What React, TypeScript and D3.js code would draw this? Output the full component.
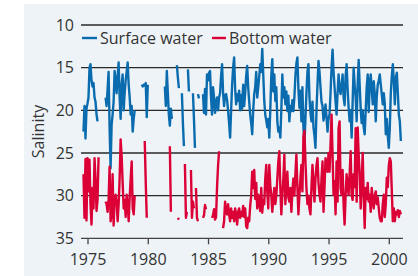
import React from 'react';
import * as d3 from 'd3';

// monthly readings, one row per calendar year (Jan..Dec), null = no sample
const years = d3.range(1974, 2001);

const surfaceWater: (number | null)[][] = [
  [null, null, null, null, null, null, null, 22.5, 19.5, 23.3, 19.8, 19.2], // 1974
  [18.5, 15.0, 14.6, 16.5, 17.2, 16.8, 18.5, 19.0, 20.5, 21.3, null, null],
  [null, null, null, null, null, 18.5, 19.5, 17.5, 15.5, 22.0, 26.8, 21.7],
  [20.5, 19.0, 15.4, 16.5, 18.0, 16.0, 14.4, 18.5, 21.0, 17.0, 15.8, 20.0],
  [18.0, 16.5, 15.5, 14.4, 17.0, 18.5, 20.5, 19.5, 22.5, 21.0, 20.0, null],
  [null, null, null, null, null, 17.0, 17.2, 17.0, 17.1, 16.8, 20.8, 17.0], // 1979
  [null, null, null, null, null, null, null, null, null, null, null, null],
  [null, null, null, null, 17.2, 19.5, 15.4, 18.0, 20.5, 21.8, 19.8, 21.0],
  [null, null, null, null, 14.7, 16.2, 17.4, null, null, 18.0, 21.5, 24.2],
  [null, null, null, 15.2, 17.8, null, null, null, 18.0, 21.0, 24.4, null],
  [null, 18.1, 18.6, null, null, null, 18.1, 20.3, 17.5, 20.5, 15.8, 16.5], // 1984
  [15.6, 15.4, 18.5, 20.5, 17.3, 18.5, 20.3, 19.0, 18.5, 20.0, 18.5, 18.0],
  [16.0, 14.6, 18.0, 19.5, 18.2, 18.1, 18.8, 20.1, 21.5, 23.2, 20.0, 17.0],
  [15.0, 13.8, 17.5, 19.3, 18.1, 18.9, 17.7, 20.0, 18.2, 19.8, 17.0, 19.5],
  [18.0, 16.0, 14.8, 17.3, 19.0, 20.5, 21.5, 22.8, 20.0, 18.1, 17.3, 15.5],
  [18.5, 17.3, 16.0, 14.6, 15.5, 12.8, 15.8, 18.9, 20.5, 21.2, 22.0, 21.0], // 1989
  [23.2, 20.0, 16.0, 14.0, 17.8, 15.8, 18.9, 17.3, 21.3, 22.5, 22.0, 23.2],
  [20.0, 15.8, 18.5, 17.3, 19.3, 17.8, 20.1, 18.3, 21.3, 19.5, 20.1, 18.8],
  [20.1, 18.5, 16.0, 14.5, 13.8, 17.5, 19.7, 17.7, 21.3, 17.3, 22.0, 24.0],
  [21.0, 18.0, 15.5, 14.6, 18.5, 20.3, 21.3, 19.0, 22.0, 23.0, 24.4, 20.0],
  [17.0, 14.2, 15.5, 17.3, 19.0, 19.5, 21.2, 20.5, 19.3, 20.8, 22.5, 21.0], // 1994
  [20.5, 18.0, 15.0, 12.9, 15.5, 17.3, 19.0, 20.5, 18.0, 15.8, 17.5, 18.1],
  [17.0, 15.8, 18.5, 19.4, 16.0, 14.6, 17.5, 19.7, 21.3, 20.0, 23.2, 19.0],
  [15.0, 17.0, 18.5, 21.3, 17.0, 14.1, 17.0, 19.8, 21.5, 20.0, 22.0, 22.8],
  [20.0, 17.3, 15.8, 20.2, 17.0, 15.8, 17.5, 19.3, 16.6, 18.0, 21.3, 18.5],
  [17.0, 16.5, 15.8, 17.0, 18.1, 19.3, 18.0, 19.2, 22.8, 21.0, 23.0, 24.4], // 1999
  [22.0, 18.0, 16.0, 14.6, 16.5, 19.3, 16.2, 15.6, 18.0, 20.5, 21.3, 23.6],
];

const bottomWater: (number | null)[][] = [
  [null, null, null, null, null, null, null, 27.5, 32.6, 25.7, 32.9, 25.6], // 1974
  [29.5, 25.8, 31.0, 33.4, 29.1, 31.5, 25.6, 28.0, 31.8, 30.5, 25.5, null],
  [null, null, null, null, null, 30.7, 31.0, 31.9, 30.5, 26.6, 33.0, 32.2],
  [27.5, 33.5, 30.5, 29.9, 30.7, 33.0, 31.0, 28.0, 23.4, 25.4, 28.5, 31.5],
  [30.5, 32.5, 29.9, 31.0, 33.0, 30.2, 28.0, 26.0, 31.5, 32.2, 30.0, null],
  [null, null, null, null, null, null, null, null, 23.6, 28.5, 32.6, null], // 1979
  [null, null, null, null, null, null, null, null, null, null, null, null],
  [null, null, null, null, null, null, null, null, null, 24.2, 31.9, null],
  [null, null, null, null, null, 32.6, 32.8, null, null, null, null, null],
  [26.3, 32.6, 31.9, null, null, null, 27.0, 32.6, 30.7, 31.5, null, 29.1],
  [32.6, 33.0, null, null, null, null, 32.6, 32.3, 31.1, 31.6, null, null], // 1984
  [null, null, null, 32.6, 32.3, 31.6, 32.8, 32.5, 29.0, 26.5, 24.8, null],
  [null, null, 33.8, 33.0, 30.7, 31.8, 32.2, 31.0, 32.2, 33.0, 31.5, 32.6],
  [31.9, 33.0, 31.5, 32.2, 33.4, 31.9, 31.5, 32.6, 31.9, 32.4, 31.2, 32.5],
  [31.5, 33.6, 33.8, 32.6, 33.0, 31.2, 30.0, 27.2, 29.1, 27.0, 30.4, 28.5],
  [31.5, 29.9, 30.7, 31.8, 29.1, 32.0, 30.5, 31.0, 28.0, 26.4, 29.5, 31.5], // 1989
  [26.4, 28.8, 29.9, 31.9, 30.5, 29.1, 31.0, 30.0, 28.0, 26.0, 24.8, 29.0],
  [32.2, 29.9, 28.0, 25.2, 31.0, 29.0, 27.2, 30.2, 30.7, 29.1, 31.9, 29.5],
  [28.0, 30.0, 27.5, 25.2, 29.0, 32.2, 30.0, 28.0, 26.4, 29.5, 23.1, 22.4],
  [26.0, 29.1, 31.0, 30.0, 31.5, 32.2, 29.0, 26.4, 28.5, 30.7, 28.0, 26.5],
  [25.6, 28.5, 29.9, 30.7, 28.0, 26.0, 31.9, 29.0, 25.6, 26.4, 27.2, 25.0], // 1994
  [27.2, 24.0, 20.5, 25.2, 29.9, 28.3, 32.2, 26.0, 30.7, 22.1, 21.3, 29.1],
  [29.9, 27.0, 31.0, 33.4, 30.0, 27.5, 28.7, 29.9, 27.5, 24.8, 29.9, 30.5],
  [27.5, 29.0, 22.1, 30.7, 22.0, 25.2, 27.5, 31.5, 28.5, 25.0, 30.0, 33.8],
  [29.1, 30.4, 28.5, 30.7, 29.9, 31.9, 29.1, 30.5, 31.5, 30.0, 29.5, 31.0],
  [30.2, 31.5, 32.6, 33.0, 33.0, 31.0, 29.9, 32.5, 31.0, 27.9, 29.0, 26.5], // 1999
  [25.6, 26.0, 29.5, 33.0, 31.5, 33.0, 31.9, 32.2, 31.7, 32.5, 31.8, 32.2],
];

const salinityTicks = [10, 15, 20, 25, 30, 35];
const yearTicks = [1975, 1980, 1985, 1990, 1995, 2000];

const seriesInfo = [
  { name: 'Surface water', color: '#0a6cae', rows: surfaceWater },
  { name: 'Bottom water', color: '#db0036', rows: bottomWater },
];

type Pt = { t: number; v: number | null };

const toPoints = (rows: (number | null)[][]): Pt[] =>
  rows.flatMap((row, yi) => row.map((v, m) => ({ t: years[yi] + (m + 0.5) / 12, v })));

const W = 418;
const H = 276;

const App: React.FC = () => {
  const x = d3.scaleLinear().domain([1975, 2000]).range([88, 389.3]);
  const y = d3.scaleLinear().domain([10, 35]).range([25, 238.3]);
  const x0 = 81;
  const x1 = 403;

  const line = d3.line<Pt>()
    .defined(d => d.v != null)
    .x(d => x(d.t))
    .y(d => y(d.v as number));

  const font = '"Open Sans", "Noto Sans", sans-serif';
  const ink = '#333';
  const fs = 16;

  return (
    <svg width={W} height={H} style={{ position: 'absolute', left: 0, top: 0 }} fontFamily={font}>
      <rect x={24} y={4} width={W - 24} height={H - 4} fill="#eef3f8" />

      {/* grid */}
      {salinityTicks.slice(0, -1).map(t => (
        <line key={t} x1={x0} x2={x1} y1={y(t)} y2={y(t)} stroke="#2a2a2a" strokeWidth={1.3} />
      ))}
      {/* x axis */}
      <line x1={x0} x2={x1} y1={y(35)} y2={y(35)} stroke="#444" strokeWidth={1.3} />
      {yearTicks.map(t => (
        <g key={t}>
          <line x1={x(t)} x2={x(t)} y1={y(35)} y2={y(35) + 6} stroke="#444" strokeWidth={1.3} />
          <text x={x(t)} y={265} textAnchor="middle" fontSize={fs} fill={ink}>{t}</text>
        </g>
      ))}
      {salinityTicks.map(t => (
        <text key={t} x={74} y={y(t) + 5.8} textAnchor="end" fontSize={fs} fill={ink}>{t}</text>
      ))}
      <text transform="translate(44,131.5) rotate(-90)" textAnchor="middle" fontSize={fs} fill={ink}>Salinity</text>

      {/* bottom water drawn last so it sits over surface where they cross */}
      {seriesInfo.map(s => (
        <path key={s.name} d={line(toPoints(s.rows)) || ''} fill="none" stroke={s.color}
          strokeWidth={2.4} strokeLinejoin="round" />
      ))}

      {/* legend */}
      <line x1={82} x2={97} y1={38} y2={38} stroke={seriesInfo[0].color} strokeWidth={2.4} />
      <text x={100} y={44} fontSize={fs} fill={ink}>{seriesInfo[0].name}</text>
      <line x1={212} x2={226} y1={38} y2={38} stroke={seriesInfo[1].color} strokeWidth={2.4} />
      <text x={229} y={44} fontSize={fs} fill={ink}>{seriesInfo[1].name}</text>
    </svg>
  );
};

export default App;
